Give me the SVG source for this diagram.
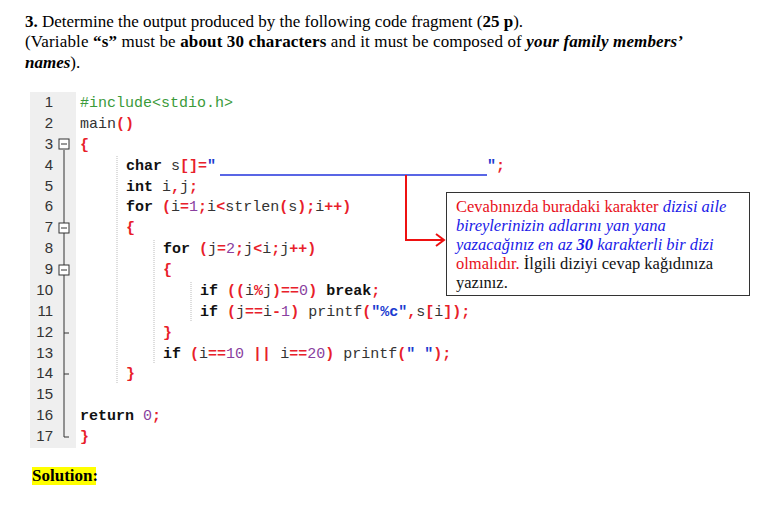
<svg xmlns="http://www.w3.org/2000/svg" width="761" height="524" viewBox="0 0 761 524">
<style>
.t{font-family:"Liberation Serif",serif;font-size:17px;fill:#000}
.c{font-family:"Liberation Mono",monospace;font-size:15px;fill:#333;white-space:pre}
.k{font-weight:bold;fill:#111}
.p{fill:#e8202a;font-weight:bold}
.n{fill:#8a3fa0}
.s{fill:#1a3ad0;font-weight:bold}
.g{fill:#3a9a3a}
.ln{font-family:"Liberation Sans",sans-serif;font-size:15px;fill:#333;text-anchor:end}
.b{font-family:"Liberation Serif",serif;font-size:16.5px}
.guide{stroke:#bbb;stroke-dasharray:1 1}
</style>
<rect width="761" height="524" fill="#fff"/>
<g id="title">
<text class="t" x="25" y="27"><tspan font-weight="bold">3.</tspan> Determine the output produced by the following code fragment (<tspan font-weight="bold">25 p</tspan>).</text>
<text class="t" x="25" y="47" textLength="658" lengthAdjust="spacing">(Variable <tspan font-weight="bold">“s”</tspan> must be <tspan font-weight="bold">about 30 characters</tspan> and it must be composed of <tspan font-weight="bold" font-style="italic">your family members’</tspan></text>
<text class="t" x="25" y="68"><tspan font-weight="bold" font-style="italic">names</tspan>).</text>
</g>
<g id="code">
<rect x="30" y="92" width="46" height="356" fill="#efefef"/>
<g>
<text class="ln" x="53" y="107">1</text><text class="ln" x="53" y="128">2</text><text class="ln" x="53" y="149">3</text><text class="ln" x="53" y="170">4</text><text class="ln" x="53" y="191">5</text><text class="ln" x="53" y="211">6</text><text class="ln" x="53" y="232">7</text><text class="ln" x="53" y="253">8</text><text class="ln" x="53" y="274">9</text><text class="ln" x="53" y="295">10</text><text class="ln" x="53" y="316">11</text><text class="ln" x="53" y="337">12</text><text class="ln" x="53" y="358">13</text><text class="ln" x="53" y="378">14</text><text class="ln" x="53" y="399">15</text><text class="ln" x="53" y="420">16</text><text class="ln" x="53" y="441">17</text>
</g>
<g stroke="#333" fill="#fff" stroke-width="1">
<line x1="64" y1="150" x2="64" y2="437"/>
<line x1="64" y1="333" x2="69" y2="333"/><line x1="64" y1="374" x2="69" y2="374"/><line x1="64" y1="437" x2="69" y2="437"/>
<rect x="59" y="139" width="10" height="10"/><line x1="61" y1="144" x2="67" y2="144"/>
<rect x="59" y="223" width="10" height="10"/><line x1="61" y1="228" x2="67" y2="228"/>
<rect x="59" y="265" width="10" height="10"/><line x1="61" y1="270" x2="67" y2="270"/>
</g>
<line class="guide" x1="117" y1="156" x2="117" y2="384"/>
<line class="guide" x1="154" y1="240" x2="154" y2="363"/>
<line class="guide" x1="191" y1="282" x2="191" y2="322"/>
<text class="c" x="80" y="107"><tspan class="g">#include&lt;stdio.h&gt;</tspan></text>
<text class="c" x="80" y="128">main<tspan class="p">()</tspan></text>
<text class="c" x="80" y="149"><tspan class="p">{</tspan></text>
<text class="c" x="126" y="170"><tspan class="k">char</tspan> s<tspan class="p">[]=</tspan><tspan class="s">"</tspan></text>
<text class="c" x="126" y="191"><tspan class="k">int</tspan> i<tspan class="p">,</tspan>j<tspan class="p">;</tspan></text>
<text class="c" x="126" y="211"><tspan class="k">for</tspan> <tspan class="p">(</tspan>i<tspan class="p">=</tspan><tspan class="n">1</tspan><tspan class="p">;</tspan>i<tspan class="p">&lt;</tspan>strlen<tspan class="p">(</tspan>s<tspan class="p">);</tspan>i<tspan class="p">++)</tspan></text>
<text class="c" x="126" y="232"><tspan class="p">{</tspan></text>
<text class="c" x="163" y="253"><tspan class="k">for</tspan> <tspan class="p">(</tspan>j<tspan class="p">=</tspan><tspan class="n">2</tspan><tspan class="p">;</tspan>j<tspan class="p">&lt;</tspan>i<tspan class="p">;</tspan>j<tspan class="p">++)</tspan></text>
<text class="c" x="163" y="274"><tspan class="p">{</tspan></text>
<text class="c" x="200" y="295"><tspan class="k">if</tspan> <tspan class="p">((</tspan>i<tspan class="p">%</tspan>j<tspan class="p">)==</tspan><tspan class="n">0</tspan><tspan class="p">)</tspan> <tspan class="k">break</tspan><tspan class="p">;</tspan></text>
<text class="c" x="200" y="316"><tspan class="k">if</tspan> <tspan class="p">(</tspan>j<tspan class="p">==</tspan>i<tspan class="p">-</tspan><tspan class="n">1</tspan><tspan class="p">)</tspan> printf<tspan class="p">(</tspan><tspan class="s">"%c"</tspan><tspan class="p">,</tspan>s<tspan class="p">[</tspan>i<tspan class="p">]);</tspan></text>
<text class="c" x="163" y="337"><tspan class="p">}</tspan></text>
<text class="c" x="163" y="358"><tspan class="k">if</tspan> <tspan class="p">(</tspan>i<tspan class="p">==</tspan><tspan class="n">10</tspan> <tspan class="p">||</tspan> i<tspan class="p">==</tspan><tspan class="n">20</tspan><tspan class="p">)</tspan> printf<tspan class="p">(</tspan><tspan class="s">" "</tspan><tspan class="p">);</tspan></text>
<text class="c" x="126" y="378"><tspan class="p">}</tspan></text>
<text class="c" x="80" y="420"><tspan class="k">return</tspan> <tspan class="n">0</tspan><tspan class="p">;</tspan></text>
<text class="c" x="80" y="441"><tspan class="p">}</tspan></text>
<text class="c" x="487" y="170"><tspan class="s">"</tspan><tspan class="p">;</tspan></text>
</g>
<g id="connectors">
<line x1="220" y1="175" x2="487" y2="175" stroke="#2233dd" stroke-width="1.5"/>
<polyline points="406,175 406,240 443,240" fill="none" stroke="#ee1111" stroke-width="2"/>
<polyline points="436,234 444,240 436,246" fill="none" stroke="#ee1111" stroke-width="2"/>
</g>
<g id="note">
<rect x="446.5" y="192.5" width="303" height="103" fill="#fff" stroke="#333"/>
<text class="b" x="456" y="212"><tspan fill="#e8101a">Cevabınızda buradaki karakter </tspan><tspan fill="#1a1ae8" font-style="italic">dizisi aile</tspan></text>
<text class="b" x="456" y="231" fill="#1a1ae8" font-style="italic">bireylerinizin adlarını yan yana</text>
<text class="b" x="456" y="250" fill="#1a1ae8" font-style="italic">yazacağınız en az <tspan font-weight="bold">30</tspan> karakterli bir dizi</text>
<text class="b" x="456" y="269"><tspan fill="#e8101a">olmalıdır.</tspan><tspan fill="#111"> İlgili diziyi cevap kağıdınıza</tspan></text>
<text class="b" x="456" y="288" fill="#111">yazınız.</text>
</g>
<g id="solution">
<rect x="32" y="467" width="64" height="18" fill="#ffff00"/>
<text class="t" x="32" y="481" font-weight="bold" font-size="16">Solution:</text>
</g>
</svg>
